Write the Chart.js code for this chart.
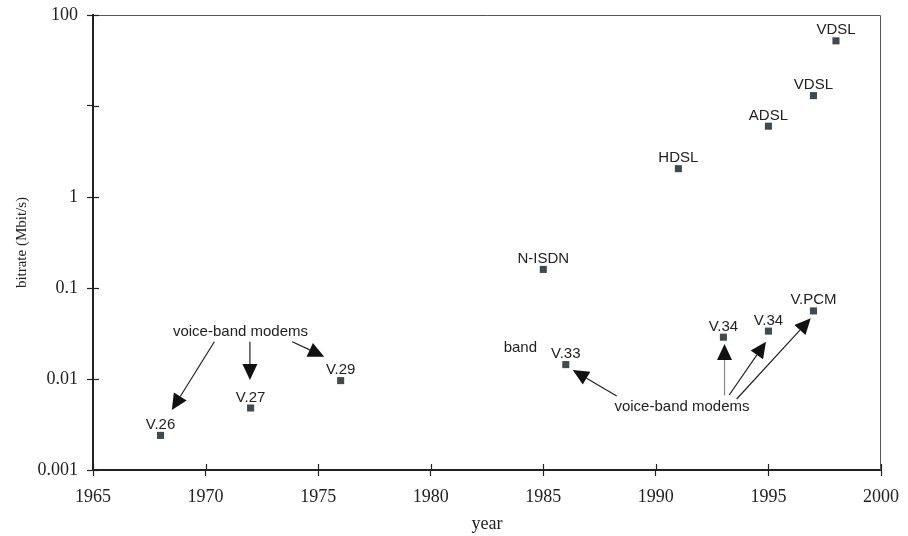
<!DOCTYPE html>
<html>
<head>
<meta charset="utf-8">
<script src="https://cdn.jsdelivr.net/npm/chart.js@4/dist/chart.umd.min.js"></script>
<style>
html, body { margin: 0; padding: 0; background: #fff; }
</style>
</head>
<body>
<canvas id="chart" width="908" height="536"></canvas>
<script>
// data points: year, bitrate in Mbit/s, name
let years = [1968, 1972, 1976, 1985, 1986, 1991, 1993, 1995, 1995, 1997, 1997, 1998];
let bitrates = [0.0024, 0.0048, 0.0096, 0.16, 0.0144, 2.048, 0.0288, 0.0336, 6, 0.056, 13, 52];
let names = ['V.26', 'V.27', 'V.29', 'N-ISDN', 'V.33', 'HDSL', 'V.34', 'V.34', 'ADSL', 'V.PCM', 'VDSL', 'VDSL'];

let xTicks = [1965, 1970, 1975, 1980, 1985, 1990, 1995, 2000];
let yTicks = [0.001, 0.01, 0.1, 1, 10, 100];
let yTickLabels = ['0.001', '0.01', '0.1', '1', '', '100'];

// free text notes, placed in data units (year, Mbit/s)
let noteTexts = ['voice-band modems', 'band', 'voice-band modems'];
let noteYears = [1971.55, 1983.98, 1991.16];
let noteRates = [0.0297, 0.0200, 0.00449];

// arrows from the notes to the points, data units
let arrowFromYears = [1970.39, 1971.97, 1973.85, 1988.26, 1993.05, 1993.26, 1993.59];
let arrowFromRates = [0.0257, 0.0257, 0.0257, 0.0065, 0.00659, 0.00667, 0.00603];
let arrowToYears = [1968.50, 1971.97, 1975.27, 1986.31, 1993.05, 1994.89, 1996.88];
let arrowToRates = [0.00456, 0.00975, 0.0176, 0.01256, 0.0243, 0.0257, 0.0465];
let arrowColors = ['#222', '#222', '#222', '#222', '#888', '#222', '#222'];

const serif = 'Liberation Serif';
const sans = 'Liberation Sans';

function drawArrow(ctx, x1, y1, x2, y2, color) {
    let a = Math.atan2(y2 - y1, x2 - x1);
    let len = 16, hw = 7.5;
    let bx = x2 - len * Math.cos(a), by = y2 - len * Math.sin(a);
    ctx.strokeStyle = color;
    ctx.lineWidth = 1.2;
    ctx.beginPath();
    ctx.moveTo(x1, y1);
    ctx.lineTo(bx, by);
    ctx.stroke();
    ctx.fillStyle = '#111';
    ctx.beginPath();
    ctx.moveTo(x2, y2);
    ctx.lineTo(bx + hw * Math.sin(a), by - hw * Math.cos(a));
    ctx.lineTo(bx - hw * Math.sin(a), by + hw * Math.cos(a));
    ctx.closePath();
    ctx.fill();
}

let extras = {
    id: 'extras',
    afterDraw(chart) {
        let ctx = chart.ctx;
        let area = chart.chartArea;
        let xs = chart.scales.x, ys = chart.scales.y;
        ctx.save();

        // thin frame on top and right
        ctx.strokeStyle = '#555';
        ctx.lineWidth = 1;
        ctx.beginPath();
        ctx.moveTo(area.left, area.top + 0.5);
        ctx.lineTo(area.right - 0.5, area.top + 0.5);
        ctx.lineTo(area.right - 0.5, area.bottom);
        ctx.stroke();

        // inner half of the tick marks
        ctx.strokeStyle = '#222';
        ctx.lineWidth = 1.2;
        for (let v of xTicks) {
            let px = Math.round(xs.getPixelForValue(v)) + 0.5;
            ctx.beginPath();
            ctx.moveTo(px, area.bottom);
            ctx.lineTo(px, area.bottom - 6);
            ctx.stroke();
        }
        for (let v of yTicks) {
            let py = Math.round(ys.getPixelForValue(v)) + 0.5;
            ctx.beginPath();
            ctx.moveTo(area.left, py);
            ctx.lineTo(area.left + 6, py);
            ctx.stroke();
        }

        // point names
        ctx.font = '15px "' + sans + '"';
        ctx.fillStyle = '#222';
        ctx.textAlign = 'center';
        ctx.textBaseline = 'alphabetic';
        chart.getDatasetMeta(0).data.forEach((el, i) => {
            ctx.fillText(names[i], el.x, el.y - 6.5);
        });

        // notes
        noteTexts.forEach((t, i) => {
            ctx.fillText(t, xs.getPixelForValue(noteYears[i]), ys.getPixelForValue(noteRates[i]));
        });

        // arrows
        arrowFromYears.forEach((v, i) => {
            drawArrow(ctx,
                xs.getPixelForValue(v), ys.getPixelForValue(arrowFromRates[i]),
                xs.getPixelForValue(arrowToYears[i]), ys.getPixelForValue(arrowToRates[i]),
                arrowColors[i]);
        });
        ctx.restore();
    }
};

let ctx = document.getElementById('chart').getContext('2d');
let chartObject = new Chart(ctx, {
    type: 'scatter',
    data: {
        datasets: [{
            data: years.map((y, i) => ({x: y, y: bitrates[i]})),
            pointStyle: 'rect',
            pointRadius: 5,
            pointHoverRadius: 5,
            backgroundColor: '#414b4f',
            borderWidth: 0
        }]
    },
    options: {
        responsive: false,
        animation: false,
        events: [],
        layout: {autoPadding: false, padding: {top: 15, right: 27, left: 0, bottom: 0}},
        plugins: {legend: {display: false}, tooltip: {enabled: false}},
        scales: {
            x: {
                type: 'linear',
                min: 1965,
                max: 2000,
                afterBuildTicks: s => { s.ticks = xTicks.map(v => ({value: v})); },
                afterFit: s => { s.height = 66; s.paddingLeft = 0; s.paddingRight = 0; },
                ticks: {
                    autoSkip: false,
                    maxRotation: 0,
                    padding: 10,
                    color: '#222',
                    font: {family: serif, size: 18},
                    callback: v => String(v)
                },
                grid: {drawOnChartArea: false, tickLength: 6, tickColor: '#222', tickWidth: 1.2},
                border: {color: '#222', width: 2},
                title: {display: true, text: 'year', color: '#222', font: {family: serif, size: 18}, padding: {top: 0, bottom: 1}}
            },
            y: {
                type: 'logarithmic',
                min: 0.001,
                max: 100,
                afterBuildTicks: s => { s.ticks = yTicks.map(v => ({value: v})); },
                afterFit: s => { s.width = 93; s.paddingTop = 0; s.paddingBottom = 0; },
                ticks: {
                    autoSkip: false,
                    padding: 9,
                    color: '#222',
                    font: {family: serif, size: 18},
                    callback: (v, i) => yTickLabels[i]
                },
                grid: {drawOnChartArea: false, tickLength: 6, tickColor: '#222', tickWidth: 1.2},
                border: {color: '#222', width: 2},
                title: {display: true, text: 'bitrate (Mbit/s)', color: '#222', font: {family: serif, size: 15}, padding: {top: 13, bottom: 0}}
            }
        }
    },
    plugins: [extras]
});
</script>
</body>
</html>
